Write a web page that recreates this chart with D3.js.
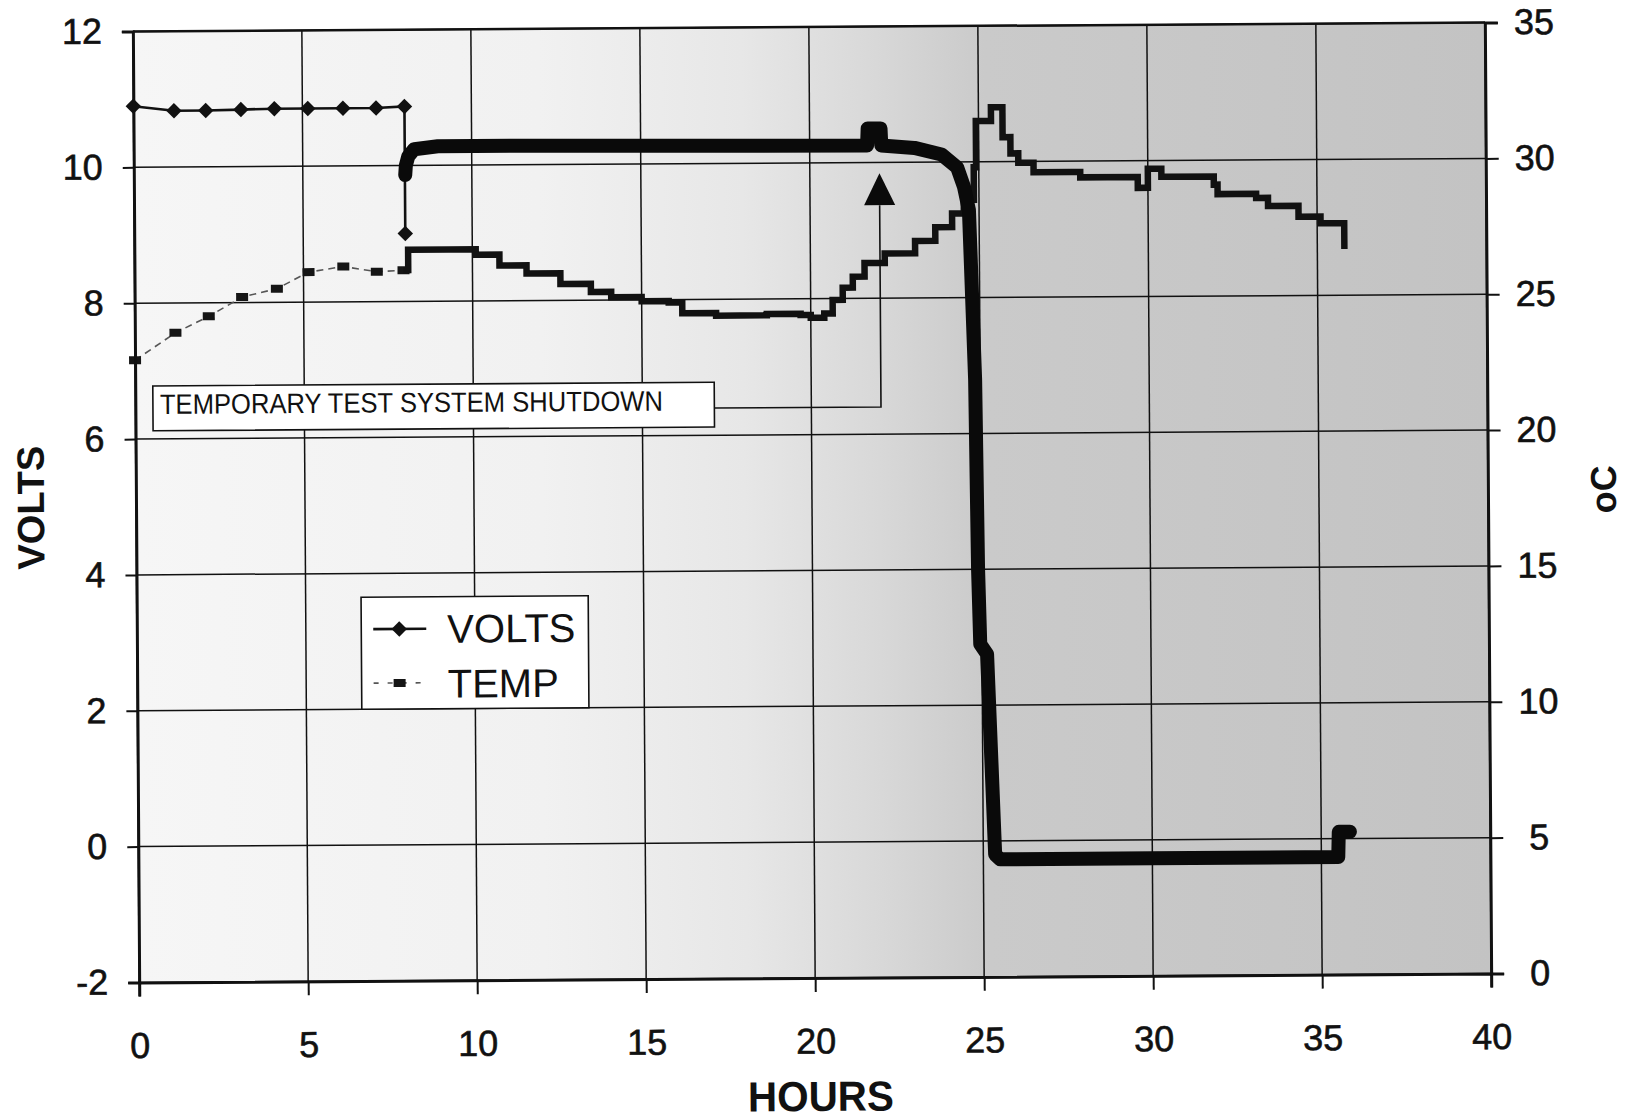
<!DOCTYPE html>
<html>
<head>
<meta charset="utf-8">
<script src="https://cdn.jsdelivr.net/npm/d3@7"></script>
<style>
    body { margin: 0; background: #fff; }
    #chart { width: 1630px; height: 1119px; }
    text { font-family: "Liberation Sans", Arial, Helvetica, sans-serif; fill: #111; }
</style>
</head>
<body>
<div id="chart"></div>
<script>

// volts, read by hand every hour before the logger was connected
const voltsHandHours = [0, 1.2, 2.14, 3.18, 4.17, 5.16, 6.2, 7.18, 8.02, 8.02];
const voltsHand      = [10.9, 10.83, 10.83, 10.84, 10.85, 10.85, 10.85, 10.85, 10.87, 9.0];

// volts from the logger (dense samples, drawn as one heavy trace)
const voltsLogHours = [8.03, 8.05, 8.12, 8.3, 9, 12, 15, 18, 21.7, 21.72, 22.1, 22.12,
    23.1, 23.9, 24.36, 24.56, 24.7, 24.85, 24.9, 24.95, 25.15, 25.35, 25.5, 30, 35.5, 35.52, 35.85];
const voltsLog      = [9.86, 10.0, 10.13, 10.24, 10.28, 10.28, 10.27, 10.26, 10.25, 10.5, 10.5, 10.25,
    10.21, 10.11, 9.92, 9.63, 9.29, 6.8, 4.0, 2.9, 2.75, -0.2, -0.27, -0.27, -0.27, 0.1, 0.1];

// temperature (oC), hourly hand readings
const tempHandHours = [0, 1.2, 2.19, 3.18, 4.21, 5.15, 6.18, 7.17, 7.96];
const tempHand      = [22.9, 23.9, 24.5, 25.2, 25.5, 26.1, 26.3, 26.1, 26.15];

// temperature from the logger, stepped
const tempLogHours = [7.96, 8.1, 9.3, 10.1, 10.8, 11.6, 12.6, 13.5, 14.1, 15.0, 15.8, 16.2, 17.2, 18.7,
    19.7, 20.0, 20.4, 20.65, 20.95, 21.25, 21.6, 22.2, 23.1, 23.7, 24.2, 24.55, 24.85, 24.92, 25.37,
    25.71, 25.71, 25.94, 26.17, 26.62, 27.75, 28.0, 29.7, 30.0, 30.4, 30.6, 31.95, 32.06, 33.2, 33.55,
    34.45, 35.1, 35.8, 35.8];
const tempLog      = [26.15, 26.9, 26.9, 26.7, 26.3, 26.0, 25.6, 25.3, 25.1, 24.95, 24.9, 24.5, 24.4, 24.45,
    24.4, 24.3, 24.45, 24.95, 25.4, 25.8, 26.3, 26.65, 27.1, 27.6, 28.1, 28.6, 29.8, 31.5, 32.0,
    31.8, 30.9, 30.3, 29.95, 29.6, 29.6, 29.4, 29.0, 29.7, 29.4, 29.4, 29.1, 28.75, 28.6, 28.3,
    27.9, 27.65, 27.05, 26.7];

const hourTicks = [0, 5, 10, 15, 20, 25, 30, 35, 40];
const voltTicks = [-2, 0, 2, 4, 6, 8, 10, 12];
const tempTicks = [0, 5, 10, 15, 20, 25, 30, 35];

const seriesNames = ["VOLTS", "TEMP"];
const noteText = "TEMPORARY TEST SYSTEM SHUTDOWN";

class VoltTempChart {

    constructor(parentElement) {
        this.parentElement = parentElement;
        this.initVis();
    }

    initVis() {
        let vis = this;

        vis.margin = {top: 27, right: 142, bottom: 141, left: 136};
        vis.width = 1630 - vis.margin.left - vis.margin.right;
        vis.height = 1119 - vis.margin.top - vis.margin.bottom;

        vis.root = d3.select("#" + vis.parentElement)
            .append("svg")
            .attr("width", 1630)
            .attr("height", 1119);

        // shading of the scanned plot area, darker toward the right
        let grad = vis.root.append("defs").append("linearGradient")
            .attr("id", "shade")
            .attr("x1", 0).attr("x2", 1).attr("y1", 0).attr("y2", 0);
        [[0, "#f6f6f6"], [0.3, "#f1f1f1"], [0.45, "#e7e7e7"], [0.55, "#d8d8d8"],
            [0.63, "#cacaca"], [1, "#c3c3c3"]].forEach(function(s) {
            grad.append("stop").attr("offset", s[0]).attr("stop-color", s[1]);
        });

        // the scan is a little tilted
        vis.svg = vis.root.append("g")
            .attr("transform", "rotate(-0.38,812,502) translate(" + vis.margin.left + "," + vis.margin.top + ")");

        vis.x = d3.scaleLinear().domain([0, 40]).range([0, vis.width]);
        vis.y = d3.scaleLinear().domain([-2, 12]).range([vis.height, 0]);
        vis.yT = d3.scaleLinear().domain([0, 35]).range([vis.height, 0]);

        vis.wrangleData();
    }

    wrangleData() {
        let vis = this;
        let zip = (hs, vs) => hs.map((h, i) => ({h: h, v: vs[i]}));
        vis.voltsHand = zip(voltsHandHours, voltsHand);
        vis.voltsLog = zip(voltsLogHours, voltsLog);
        vis.tempHand = zip(tempHandHours, tempHand);
        vis.tempLog = zip(tempLogHours, tempLog);
        vis.updateVis();
    }

    updateVis() {
        let vis = this;

        vis.svg.append("rect")
            .attr("width", vis.width)
            .attr("height", vis.height)
            .attr("fill", "url(#shade)");

        // grid
        vis.svg.append("g").selectAll("line")
            .data(hourTicks)
            .enter().append("line")
            .attr("x1", d => vis.x(d)).attr("x2", d => vis.x(d))
            .attr("y1", 0).attr("y2", vis.height)
            .attr("stroke", "#111").attr("stroke-width", 1.5);
        vis.svg.append("g").selectAll("line")
            .data(voltTicks)
            .enter().append("line")
            .attr("x1", 0).attr("x2", vis.width)
            .attr("y1", d => vis.y(d)).attr("y2", d => vis.y(d))
            .attr("stroke", "#111").attr("stroke-width", 1.5);

        // temperature
        let tLine = d3.line().x(d => vis.x(d.h)).y(d => vis.yT(d.v));
        vis.svg.append("path")
            .datum(vis.tempHand)
            .attr("d", tLine)
            .attr("fill", "none")
            .attr("stroke", "#555")
            .attr("stroke-width", 1.6)
            .attr("stroke-dasharray", "7,5");
        vis.svg.append("g").selectAll("rect")
            .data(vis.tempHand)
            .enter().append("rect")
            .attr("x", d => vis.x(d.h) - 6)
            .attr("y", d => vis.yT(d.v) - 4)
            .attr("width", 12).attr("height", 8)
            .attr("fill", "#151515");
        vis.svg.append("path")
            .datum(vis.tempLog)
            .attr("d", tLine.curve(d3.curveStepAfter))
            .attr("fill", "none")
            .attr("stroke", "#111")
            .attr("stroke-width", 6.5);

        // volts
        let vLine = d3.line().x(d => vis.x(d.h)).y(d => vis.y(d.v));
        vis.svg.append("path")
            .datum(vis.voltsHand)
            .attr("d", vLine)
            .attr("fill", "none")
            .attr("stroke", "#111")
            .attr("stroke-width", 2.6);
        vis.svg.append("path")
            .datum(vis.voltsLog)
            .attr("d", vLine)
            .attr("fill", "none")
            .attr("stroke", "#0a0a0a")
            .attr("stroke-width", 14)
            .attr("stroke-linejoin", "round")
            .attr("stroke-linecap", "round");
        let diamond = d3.symbol().type(d3.symbolSquare).size(120);
        vis.svg.append("g").selectAll("path")
            .data(vis.voltsHand)
            .enter().append("path")
            .attr("d", diamond)
            .attr("transform", d => "translate(" + vis.x(d.h) + "," + vis.y(d.v) + ") rotate(45)")
            .attr("fill", "#111");

        vis.drawNote();
        vis.drawLegend();
        vis.drawAxes();
    }

    drawNote() {
        let vis = this;
        let x0 = vis.x(0.52), x1 = vis.x(17.13);
        let yTop = vis.y(6.78), yBot = vis.y(6.12);

        vis.svg.append("polyline")
            .attr("points", [[x1, vis.y(6.4)], [vis.x(22.06), vis.y(6.4)], [vis.x(22.06), vis.y(9.37)]].join(" "))
            .attr("fill", "none")
            .attr("stroke", "#111")
            .attr("stroke-width", 1.6);
        vis.svg.append("polygon")
            .attr("points", [[vis.x(21.6), vis.y(9.37)], [vis.x(22.52), vis.y(9.37)], [vis.x(22.06), vis.y(9.84)]].join(" "))
            .attr("fill", "#0a0a0a");

        vis.svg.append("rect")
            .attr("x", x0).attr("y", yTop)
            .attr("width", x1 - x0).attr("height", yBot - yTop)
            .attr("fill", "#fff")
            .attr("stroke", "#111")
            .attr("stroke-width", 1.6);
        vis.svg.append("text")
            .attr("x", x0 + 7)
            .attr("y", yTop + 28)
            .attr("textLength", 503)
            .attr("lengthAdjust", "spacingAndGlyphs")
            .style("font-size", "28px")
            .text(noteText);
    }

    drawLegend() {
        let vis = this;
        let lx = vis.x(6.64), rx = vis.x(13.36);
        let ty = vis.y(3.65), by = vis.y(2.0);

        let lg = vis.svg.append("g").attr("transform", "translate(" + lx + "," + ty + ")");
        lg.append("rect")
            .attr("width", rx - lx).attr("height", by - ty)
            .attr("fill", "#fff")
            .attr("stroke", "#111")
            .attr("stroke-width", 1.6);

        // VOLTS
        lg.append("line")
            .attr("x1", 12).attr("x2", 65).attr("y1", 32).attr("y2", 32)
            .attr("stroke", "#111").attr("stroke-width", 2.6);
        lg.append("path")
            .attr("d", d3.symbol().type(d3.symbolSquare).size(120))
            .attr("transform", "translate(38,32) rotate(45)")
            .attr("fill", "#111");
        // TEMP
        lg.append("line")
            .attr("x1", 12).attr("x2", 65).attr("y1", 86).attr("y2", 86)
            .attr("stroke", "#555").attr("stroke-width", 1.6)
            .attr("stroke-dasharray", "5,9");
        lg.append("rect")
            .attr("x", 32).attr("y", 82).attr("width", 12).attr("height", 8)
            .attr("fill", "#151515");

        lg.selectAll("text.lab")
            .data(seriesNames)
            .enter().append("text")
            .attr("class", "lab")
            .attr("x", 86)
            .attr("y", (d, i) => 46 + i * 55)
            .style("font-size", "40px")
            .text(d => d);
    }

    drawAxes() {
        let vis = this;
        let plain = d => String(d);

        let left = vis.svg.append("g")
            .call(d3.axisLeft(vis.y).tickValues(voltTicks).tickSize(11).tickPadding(20).tickFormat(plain));
        let bottom = vis.svg.append("g")
            .attr("transform", "translate(0," + vis.height + ")")
            .call(d3.axisBottom(vis.x).tickValues(hourTicks).tickSize(14).tickPadding(36).tickFormat(plain));
        let right = vis.svg.append("g")
            .attr("transform", "translate(" + vis.width + ",0)")
            .call(d3.axisRight(vis.yT).tickValues(tempTicks).tickSize(13).tickPadding(36).tickFormat(plain));

        [left, bottom, right].forEach(function(a) {
            a.attr("font-family", null).attr("font-size", null);
            a.select(".domain").attr("stroke", "#111").attr("stroke-width", 3);
            a.selectAll(".tick line").attr("stroke", "#111").attr("stroke-width", 2);
            a.selectAll(".tick text")
                .style("font-size", "36px")
                .attr("fill", "#111")
                .attr("stroke", "#111")
                .attr("stroke-width", 0.6);
        });
        right.selectAll(".tick text").attr("text-anchor", "middle").attr("x", 49);

        // top border
        vis.svg.append("line")
            .attr("x1", 0).attr("x2", vis.width).attr("y1", 0).attr("y2", 0)
            .attr("stroke", "#111").attr("stroke-width", 2.5);

        vis.svg.append("text")
            .attr("transform", "translate(" + (44 - vis.margin.left) + "," + (vis.height / 2) + ") rotate(-90)")
            .attr("text-anchor", "middle")
            .style("font-size", "38px")
            .style("font-weight", "bold")
            .text("VOLTS");

        vis.svg.append("text")
            .attr("x", vis.width / 2 + 5)
            .attr("y", vis.height + 133)
            .attr("text-anchor", "middle")
            .attr("textLength", 146)
            .attr("lengthAdjust", "spacingAndGlyphs")
            .style("font-size", "42px")
            .style("font-weight", "bold")
            .text("HOURS");

        vis.svg.append("text")
            .attr("transform", "translate(" + (vis.width + 128) + "," + (vis.height / 2 - 8) + ") rotate(-90)")
            .attr("text-anchor", "middle")
            .style("font-size", "36px")
            .style("font-weight", "bold")
            .text("oC");
    }
}

new VoltTempChart("chart");
</script>
</body>
</html>
